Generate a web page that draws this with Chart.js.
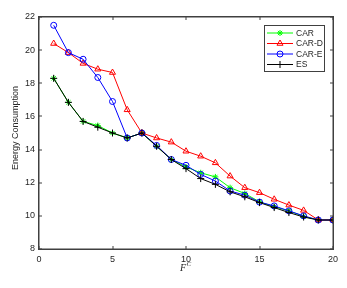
<!DOCTYPE html>
<html>
<head>
<meta charset="utf-8">
<script src="https://cdn.jsdelivr.net/npm/chart.js@4.4.0/dist/chart.umd.min.js"></script>
<style>
  html, body { margin: 0; padding: 0; background: #fff; }
  #wrap { width: 347px; height: 288px; }
</style>
</head>
<body>
<div id="wrap"><canvas id="energyChart" width="347" height="288"></canvas></div>
<script>
const fc = [1, 2, 3, 4, 5, 6, 7, 8, 9, 10, 11, 12, 13, 14, 15, 16, 17, 18, 19, 20];
const car = [18.3, 16.85, 15.7, 15.45, 15.0, 14.7, 15.0, 14.2, 13.4, 12.95, 12.6, 12.35, 11.7, 11.35, 10.85, 10.55, 10.3, 9.97, 9.75, 9.75];
const carD = [20.4, 19.85, 19.2, 18.85, 18.65, 16.4, 15.0, 14.7, 14.45, 13.9, 13.6, 13.2, 12.4, 11.7, 11.4, 11.0, 10.65, 10.33, 9.75, 9.75];
const carE = [21.5, 19.85, 19.45, 18.35, 16.9, 14.7, 15.0, 14.25, 13.4, 13.05, 12.5, 12.1, 11.5, 11.25, 10.83, 10.6, 10.3, 10.0, 9.75, 9.75];
const es = [18.3, 16.85, 15.7, 15.35, 15.0, 14.7, 15.0, 14.2, 13.4, 12.85, 12.25, 11.9, 11.45, 11.15, 10.8, 10.5, 10.2, 9.93, 9.75, 9.75];
const xTicks = [0, 5, 10, 15, 20];
const yTicks = [8, 10, 12, 14, 16, 18, 20, 22];

const axisColor = '#262626';
const frameColor = '#404040';
const sans = '"Liberation Sans", Arial, sans-serif';

function points(vals) {
    return vals.map((v, i) => ({ x: fc[i], y: v }));
}

function series(label, vals, color, style, radius, order) {
    return {
        label: label,
        data: points(vals),
        borderColor: color,
        backgroundColor: 'rgba(0,0,0,0)',
        borderWidth: 1,
        pointStyle: style,
        pointRadius: radius,
        pointBorderColor: color,
        pointBorderWidth: 1,
        pointBackgroundColor: 'rgba(0,0,0,0)',
        tension: 0,
        order: order
    };
}

// box, inner ticks, axis titles and legend, MATLAB style
const matlabFrame = {
    id: 'matlabFrame',
    afterDraw(chart) {
        const c = chart.ctx;
        const xs = chart.scales.x;
        const ys = chart.scales.y;
        const L = Math.round(xs.getPixelForValue(0));
        const R = Math.round(xs.getPixelForValue(20));
        const T = Math.round(ys.getPixelForValue(22));
        const B = Math.round(ys.getPixelForValue(8));
        c.save();
        c.fillStyle = frameColor;
        c.fillRect(L - 1, T - 1, R - L + 2, 1.5);
        c.fillRect(L - 1, B - 0.5, R - L + 2, 1.5);
        c.fillRect(L - 1, T - 1, 1.5, B - T + 2);
        c.fillRect(R - 0.5, T - 1, 1.5, B - T + 2);
        xTicks.forEach(t => {
            const px = Math.round(xs.getPixelForValue(t));
            c.fillRect(px - 0.5, B - 3, 1, 3);
            c.fillRect(px - 0.5, T, 1, 3);
        });
        yTicks.forEach(t => {
            const py = Math.round(ys.getPixelForValue(t));
            c.fillRect(L, py - 0.5, 3, 1);
            c.fillRect(R - 3, py - 0.5, 3, 1);
        });

        // y title
        c.fillStyle = axisColor;
        c.font = '9px ' + sans;
        c.textAlign = 'center';
        c.textBaseline = 'middle';
        c.save();
        c.translate(16, 128);
        c.rotate(-Math.PI / 2);
        c.fillText('Energy Consumption', 0, 0);
        c.restore();

        // x title F^C
        c.textAlign = 'left';
        c.textBaseline = 'alphabetic';
        c.font = 'italic 10px "Liberation Serif", "Times New Roman", serif';
        const cx = (L + R) / 2 - 6;
        c.fillText('F', cx, 271);
        c.font = 'italic 7px "Liberation Serif", "Times New Roman", serif';
        c.fillText('C', cx + 6.5, 266);

        // legend
        const bx = 264.5, by = 25.5, bw = 60, bh = 46;
        c.fillStyle = '#fff';
        c.fillRect(bx, by, bw, bh);
        c.fillStyle = frameColor;
        c.fillRect(bx - 0.5, by - 0.5, bw + 1, 1);
        c.fillRect(bx - 0.5, by + bh - 0.5, bw + 1, 1);
        c.fillRect(bx - 0.5, by - 0.5, 1, bh + 1);
        c.fillRect(bx + bw - 0.5, by - 0.5, 1, bh + 1);
        const rows = [33, 43.5, 54, 64.5];
        chart.data.datasets.forEach((ds, i) => {
            const y = rows[i];
            c.strokeStyle = ds.borderColor;
            c.lineWidth = 1;
            c.beginPath();
            c.moveTo(267, y); c.lineTo(293, y);
            c.stroke();
            c.fillStyle = 'rgba(0,0,0,0)';
            Chart.helpers.drawPoint(c, {
                pointStyle: ds.pointStyle,
                radius: ds.pointRadius,
                borderWidth: 1,
                rotation: 0
            }, 280, y);
            c.fillStyle = axisColor;
            c.font = '8.5px ' + sans;
            c.textAlign = 'left';
            c.textBaseline = 'middle';
            c.fillText(ds.label, 296, y + 0.5);
        });
        c.restore();
    }
};

const canvas = document.getElementById('energyChart');
new Chart(canvas, {
    type: 'line',
    data: {
        datasets: [
            series('CAR', car, '#00ff00', 'star', 3, 4),
            series('CAR-D', carD, '#ff0000', 'triangle', 3.5, 3),
            series('CAR-E', carE, '#0000ff', 'circle', 3, 2),
            series('ES', es, '#000000', 'cross', 3.5, 1)
        ]
    },
    options: {
        responsive: false,
        animation: false,
        devicePixelRatio: 1,
        layout: { padding: { left: 0, top: 17, right: 14, bottom: 0 } },
        plugins: {
            legend: { display: false },
            tooltip: { enabled: false }
        },
        scales: {
            x: {
                type: 'linear',
                min: 0,
                max: 20,
                afterBuildTicks: scale => { scale.ticks = xTicks.map(v => ({ value: v })); },
                afterFit: scale => { scale.height = 39; },
                grid: { display: false, drawTicks: false, tickLength: 0 },
                border: { display: false },
                ticks: {
                    color: axisColor,
                    padding: 5,
                    maxRotation: 0,
                    font: { family: sans, size: 9 }
                }
            },
            y: {
                min: 8,
                max: 22,
                afterBuildTicks: scale => { scale.ticks = yTicks.map(v => ({ value: v })); },
                afterFit: scale => { scale.width = 39; },
                grid: { display: false, drawTicks: false, tickLength: 0 },
                border: { display: false },
                ticks: {
                    color: axisColor,
                    padding: 4,
                    font: { family: sans, size: 9 }
                }
            }
        }
    },
    plugins: [matlabFrame]
});
</script>
</body>
</html>
